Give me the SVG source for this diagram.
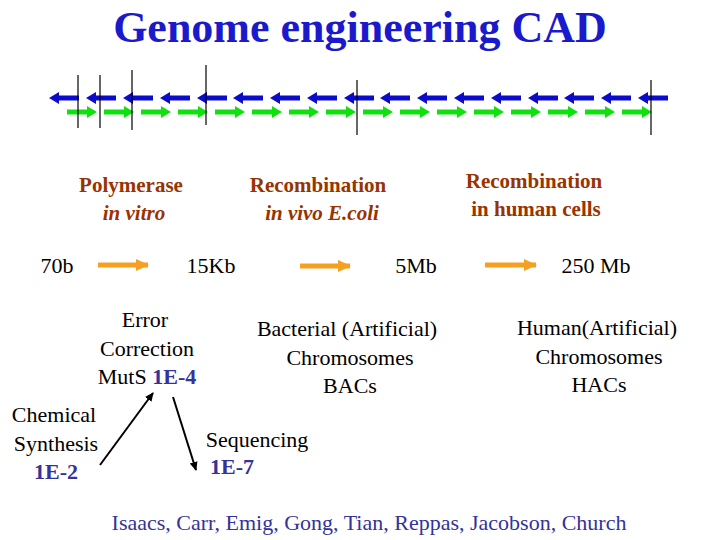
<svg xmlns="http://www.w3.org/2000/svg" width="720" height="540" viewBox="0 0 720 540">
<style>
.v{stroke:#000;stroke-width:1.2}
text{font-family:"Times New Roman","Liberation Serif","DejaVu Serif",serif}
</style>
<defs>
<path id="ba" d="M0,0 L10,-6 L10,-2.5 L30,-2.5 L30,2.5 L10,2.5 L10,6 Z" fill="#0b0bcc"/>
<path id="ga" d="M0,-2.5 L20,-2.5 L20,-6 L30,0 L20,6 L20,2.5 L0,2.5 Z" fill="#10e010"/>
<marker id="m" markerWidth="10" markerHeight="10" refX="8" refY="5" orient="auto" markerUnits="userSpaceOnUse"><path d="M0,1 L9,5 L0,9 Z" fill="#000"/></marker>
<marker id="o" markerWidth="14" markerHeight="14" refX="12" refY="7" orient="auto" markerUnits="userSpaceOnUse"><path d="M0,1 L13,7 L0,13 Z" fill="#f5a020"/></marker>
</defs>
<text x="360" y="42" font-size="44" font-weight="bold" fill="#1a1acc" text-anchor="middle">Genome engineering CAD</text>
<g id="strands">
<use href="#ba" x="49" y="98"/><use href="#ba" x="86" y="98"/><use href="#ba" x="123" y="98"/><use href="#ba" x="160" y="98"/><use href="#ba" x="197" y="98"/><use href="#ba" x="233" y="98"/><use href="#ba" x="270" y="98"/><use href="#ba" x="307" y="98"/><use href="#ba" x="344" y="98"/><use href="#ba" x="380" y="98"/><use href="#ba" x="417" y="98"/><use href="#ba" x="454" y="98"/><use href="#ba" x="491" y="98"/><use href="#ba" x="528" y="98"/><use href="#ba" x="564" y="98"/><use href="#ba" x="601" y="98"/><use href="#ba" x="638" y="98"/>
<use href="#ga" x="67" y="112"/><use href="#ga" x="104" y="112"/><use href="#ga" x="141" y="112"/><use href="#ga" x="178" y="112"/><use href="#ga" x="215" y="112"/><use href="#ga" x="252" y="112"/><use href="#ga" x="289" y="112"/><use href="#ga" x="326" y="112"/><use href="#ga" x="363" y="112"/><use href="#ga" x="400" y="112"/><use href="#ga" x="437" y="112"/><use href="#ga" x="474" y="112"/><use href="#ga" x="511" y="112"/><use href="#ga" x="548" y="112"/><use href="#ga" x="585" y="112"/><use href="#ga" x="622" y="112"/>
<line class="v" x1="78" y1="75" x2="78" y2="128"/><line class="v" x1="100" y1="75" x2="100" y2="128"/><line class="v" x1="132" y1="70" x2="132" y2="130"/><line class="v" x1="206" y1="65" x2="206" y2="125"/><line class="v" x1="357" y1="80" x2="357" y2="135"/><line class="v" x1="651" y1="80" x2="651" y2="135"/>
</g>
<g id="labels" font-weight="bold" fill="#993300" font-size="21" text-anchor="middle">
<text x="131" y="192">Polymerase</text><text x="134" y="220" font-style="italic">in vitro</text>
<text x="318" y="192">Recombination</text><text x="322" y="220" font-style="italic">in vivo E.coli</text>
<text x="534" y="188">Recombination</text><text x="536" y="216">in human cells</text>
</g>
<g id="sizes" font-size="22" text-anchor="middle">
<text x="57" y="273">70b</text><text x="211" y="273">15Kb</text><text x="416" y="273">5Mb</text><text x="596" y="273">250 Mb</text>
</g>
<g id="error" font-size="22" text-anchor="middle"><text x="145" y="327">Error</text><text x="147" y="356">Correction</text><text x="147" y="384">MutS <tspan font-weight="bold" fill="#333399">1E-4</tspan></text></g>
<g id="chem" font-size="22" text-anchor="middle"><text x="54" y="422">Chemical</text><text x="56" y="451">Synthesis</text><text x="56" y="479" font-weight="bold" fill="#333399">1E-2</text></g>
<g id="seq" font-size="22" text-anchor="middle"><text x="257" y="447">Sequencing</text><text x="232" y="474" font-weight="bold" fill="#333399">1E-7</text></g>
<g id="bac" font-size="22" text-anchor="middle"><text x="347" y="336">Bacterial (Artificial)</text><text x="350" y="365">Chromosomes</text><text x="350" y="393">BACs</text></g>
<g id="hac" font-size="22" text-anchor="middle"><text x="597" y="335">Human(Artificial)</text><text x="599" y="364">Chromosomes</text><text x="599" y="392">HACs</text></g>
<g id="connectors">
<line x1="98" y1="265" x2="148" y2="265" stroke="#f5a020" stroke-width="5" marker-end="url(#o)"/>
<line x1="300" y1="266" x2="350" y2="266" stroke="#f5a020" stroke-width="5" marker-end="url(#o)"/>
<line x1="485" y1="265" x2="536" y2="265" stroke="#f5a020" stroke-width="5" marker-end="url(#o)"/>
<line x1="100" y1="465" x2="153" y2="393" stroke="#000" stroke-width="2" marker-end="url(#m)"/>
<line x1="173" y1="397" x2="196" y2="470" stroke="#000" stroke-width="2" marker-end="url(#m)"/>
</g>
<text x="369" y="530" font-size="22" fill="#333399" text-anchor="middle">Isaacs, Carr, Emig, Gong, Tian, Reppas, Jacobson, Church</text>
</svg>
